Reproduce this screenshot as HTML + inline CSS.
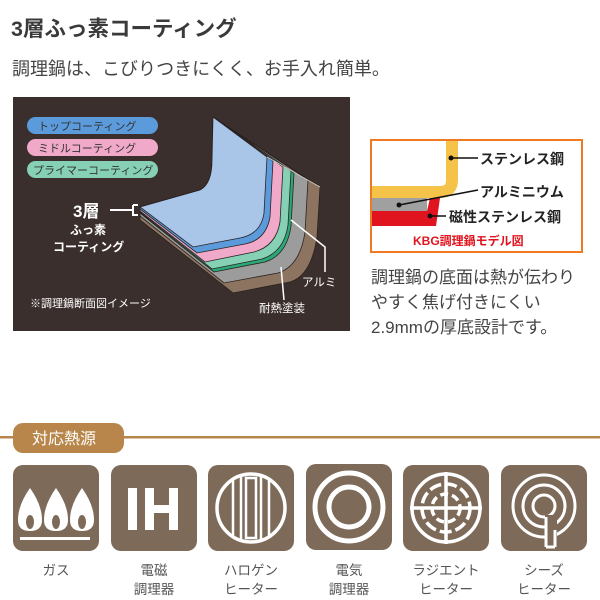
<!DOCTYPE html>
<html><head><meta charset="utf-8"><style>
body{margin:0;background:#fff;}
svg{display:block;font-family:"Liberation Sans","Noto Sans CJK JP",sans-serif;}
</style></head><body>
<svg width="600" height="600" viewBox="0 0 600 600">
<text x="11" y="36" font-size="21.5" font-weight="bold" fill="#3a3a3a">3層ふっ素コーティング</text>
<text x="12" y="75" font-size="18" fill="#444">調理鍋は、こびりつきにくく、お手入れ簡単。</text>

<rect x="13" y="97" width="337" height="234" fill="#3a2f2c"/>
<g stroke="#2a2220" stroke-width="0.8">
<path d="M213,117 L320,187 L317,237 Q311,276 290,282 L233,293 L140,220 L140,207 L200,190 Q212,184 212,160 Z" fill="#8c7461"/>
<path d="M213,117 L308,180 L305,232 Q300,266 278,273 L224,283 L140,216 L140,207 L200,190 Q212,184 212,160 Z" fill="#9c9c9c"/>
<path d="M213,117 L294,173 L291,226 Q287,255 265,262 L214,272 L140,213 L140,207 L200,190 Q212,184 212,160 Z" fill="#2aa878"/>
<path d="M213,117 L291,171 L288,225 Q284,252 262,259 L212,269 L140,212 L140,207 L200,190 Q212,184 212,160 Z" fill="#86d0b5"/>
<path d="M213,117 L283,167 L280,222 Q276,246 254,252 L205,262 L140,211 L140,207 L200,190 Q212,184 212,160 Z" fill="#f1a9c9"/>
<path d="M213,117 L273,161 L270,217 Q266,240 245,244 L197,253 L140,209 L140,207 L200,190 Q212,184 212,160 Z" fill="#5b9bdc"/>
<path d="M213,117 L267,157 L264,213 Q261,234 240,238 L193,247 L140,207 L200,190 Q212,184 212,160 Z" fill="#a9c5e8"/>
</g>
<path d="M267,157 L320,187" fill="none" stroke="#d8d0c8" stroke-width="0.8"/>
<rect x="27" y="117" width="131" height="17" rx="8.5" fill="#5b9bdc"/>
<rect x="27" y="139" width="131" height="17" rx="8.5" fill="#f1a9c9"/>
<rect x="27" y="161" width="131" height="17" rx="8.5" fill="#86d0b5"/>
<g font-size="11" fill="#333">
<text x="38" y="130">トップコーティング</text>
<text x="38" y="152">ミドルコーティング</text>
<text x="33" y="174">プライマーコーティング</text>
</g>
<text x="73" y="217" font-size="17" font-weight="bold" fill="#fff">3層</text>
<path d="M110,210 H133 M133,205 V215 H138 M133,205 H138" stroke="#fff" stroke-width="2" fill="none"/>
<text x="70" y="234" font-size="12" font-weight="bold" fill="#fff">ふっ素</text>
<text x="53" y="251" font-size="12" font-weight="bold" fill="#fff">コーティング</text>
<path d="M291,220 L325,247 V272" stroke="#fff" stroke-width="1.5" fill="none"/>
<path d="M281,267 L284,300" stroke="#fff" stroke-width="1.5" fill="none"/>
<text x="302" y="286" font-size="11.5" fill="#fff">アルミ</text>
<text x="259" y="312" font-size="11.5" fill="#fff">耐熱塗装</text>
<text x="30" y="307" font-size="11" fill="#fff">※調理鍋断面図イメージ</text>

<rect x="371" y="140" width="211" height="112" fill="#fff" stroke="#f07a22" stroke-width="2"/>
<path d="M452,141 V180 Q452,192 440,192 H372" fill="none" stroke="#f5c34a" stroke-width="12"/>
<rect x="372" y="198" width="55" height="13" fill="#a0a0a0"/>
<path d="M372,211 H427 L430,198 H440 L436,226 H372 Z" fill="#e0141e"/>
<circle cx="451" cy="158" r="2.5" fill="#111"/>
<path d="M451,158 H478" stroke="#111" stroke-width="1.5"/>
<circle cx="399" cy="205" r="2.5" fill="#111"/>
<path d="M399,205 L478,190" stroke="#111" stroke-width="1.5"/>
<circle cx="430" cy="216" r="2.5" fill="#111"/>
<path d="M430,216 H446" stroke="#111" stroke-width="1.5"/>
<g font-size="14" font-weight="bold" fill="#222">
<text x="480" y="164">ステンレス鋼</text>
<text x="480" y="197">アルミニウム</text>
<text x="449" y="222">磁性ステンレス鋼</text>
</g>
<text x="413" y="245" font-size="12" font-weight="bold" fill="#e0141e">KBG調理鍋モデル図</text>
<g font-size="17" fill="#444">
<text x="371" y="283">調理鍋の底面は熱が伝わり</text>
<text x="371" y="308">やすく焦げ付きにくい</text>
<text x="371" y="333">2.9mmの厚底設計です。</text>
</g>

<rect x="0" y="436" width="600" height="2.5" fill="#b8864a"/>
<rect x="13" y="423" width="111" height="30" rx="10" fill="#b8864a"/>
<text x="32" y="444" font-size="16" fill="#fff">対応熱源</text>
<g fill="#7d6a58">
<rect x="13" y="465" width="86" height="86" rx="10"/>
<rect x="111" y="465" width="86" height="86" rx="10"/>
<rect x="208" y="465" width="86" height="86" rx="10"/>
<rect x="306" y="464" width="86" height="86" rx="10"/>
<rect x="403" y="465" width="86" height="86" rx="10"/>
<rect x="501" y="465" width="86" height="86" rx="10"/>
</g>
<g fill="#fff">
<path d="M30,488 Q18,505 18,520 Q18,531 30,531 Q42,531 42,520 Q42,505 30,488 Z"/>
<path d="M56,488 Q44,505 44,520 Q44,531 56,531 Q68,531 68,520 Q68,505 56,488 Z"/>
<path d="M82,488 Q70,505 70,520 Q70,531 82,531 Q94,531 94,520 Q94,505 82,488 Z"/>
<rect x="20" y="537" width="70" height="3"/>
</g>
<g fill="#7d6a58"><ellipse cx="30" cy="522" rx="4" ry="7"/><ellipse cx="56" cy="522" rx="4" ry="7"/><ellipse cx="82" cy="522" rx="4" ry="7"/></g>
<g fill="#fff">
<rect x="128" y="488" width="9" height="42"/>
<rect x="145" y="488" width="9" height="42"/>
<rect x="169" y="488" width="9" height="42"/>
<rect x="145" y="505" width="33" height="8"/>
</g>
<circle cx="251" cy="508" r="34" fill="none" stroke="#fff" stroke-width="3.5"/>
<g fill="none" stroke="#fff" stroke-width="2.5">
<path d="M233,480 V536 M241,476 V540 M261,476 V540 M269,480 V536 M246,478 V538 H256 V478 Z"/>
</g>
<circle cx="349" cy="507" r="34" fill="none" stroke="#fff" stroke-width="5"/>
<circle cx="349" cy="507" r="20" fill="none" stroke="#fff" stroke-width="5"/>
<g fill="none" stroke="#fff" stroke-width="3.5">
<circle cx="446" cy="508" r="34"/>
<circle cx="446" cy="508" r="24" stroke-dasharray="12 4"/>
<circle cx="446" cy="508" r="14" stroke-dasharray="8 4"/>
<path d="M446,472 V544 M410,508 H482"/>
</g>
<g fill="none" stroke="#fff" stroke-width="3">
<circle cx="544" cy="506" r="31"/>
<circle cx="544" cy="506" r="21"/>
<circle cx="544" cy="506" r="11"/>
</g>
<rect x="545" y="515" width="12" height="30" fill="#7d6a58"/>
<g fill="none" stroke="#fff" stroke-width="3">
<path d="M546,517 V547 M555,530 V547 M546,547 H555"/>
</g>
<g font-size="13.5" fill="#555" text-anchor="middle">
<text x="56" y="575">ガス</text>
<text x="154" y="575">電磁</text><text x="154" y="594">調理器</text>
<text x="251" y="575">ハロゲン</text><text x="251" y="594">ヒーター</text>
<text x="349" y="575">電気</text><text x="349" y="594">調理器</text>
<text x="446" y="575">ラジエント</text><text x="446" y="594">ヒーター</text>
<text x="544" y="575">シーズ</text><text x="544" y="594">ヒーター</text>
</g>
</svg>
</body></html>
